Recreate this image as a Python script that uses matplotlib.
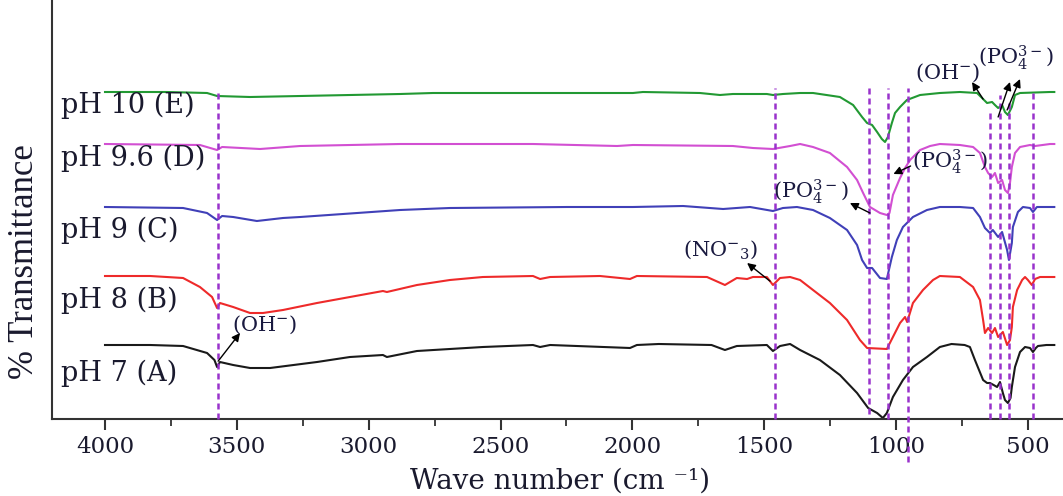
import numpy as np
import matplotlib.pyplot as plt
from matplotlib.ticker import MultipleLocator

plt.rcParams['font.family'] = ['DejaVu Serif']
plt.rcParams['mathtext.fontset'] = 'dejavuserif'

# FTIR spectra, offset transmittance (arbitrary units)
wn_A = [4000, 3829, 3704, 3613, 3585, 3575, 3564, 3514, 3450, 3374, 3196, 3071, 2946, 2931,
        2817, 2567, 2377, 2350, 2312, 2009, 1983, 1900, 1700, 1649, 1604, 1490, 1467, 1440,
        1402, 1364, 1289, 1213, 1148, 1106, 1072, 1050, 1035, 1012, 974, 936, 883, 834, 790,
        740, 720, 701, 670, 655, 644, 630, 617, 606, 595, 587, 576, 566, 561, 549, 530, 511,
        492, 481, 470, 462, 430, 400]
t_A = [74, 74, 73, 66, 59, 52, 57, 54, 51, 51, 57, 62, 64, 62,
       68, 72, 74, 72, 74, 71, 74, 75, 74, 69, 73, 74, 68, 73,
       75, 69, 59, 44, 26, 11, 6, 1, 6, 22, 39, 52, 62, 72, 75,
       74, 72, 59, 39, 36, 36, 34, 32, 37, 26, 19, 16, 21, 32, 52, 67, 72,
       71, 67, 71, 73, 74, 74]

wn_B = [4000, 3829, 3704, 3640, 3594, 3575, 3564, 3514, 3450, 3401, 3325, 3196, 3071, 2946,
        2931, 2817, 2692, 2567, 2377, 2350, 2312, 2123, 2009, 1983, 1717, 1649, 1604, 1565,
        1543, 1490, 1467, 1440, 1402, 1364, 1315, 1251, 1186, 1137, 1110, 1035, 1012, 985,
        966, 958, 936, 898, 860, 834, 758, 708, 682, 670, 663, 651, 636, 625, 613, 595, 579,
        568, 561, 557, 541, 522, 511, 500, 485, 473, 454, 400]
t_B = [143, 143, 141, 132, 122, 111, 116, 112, 106, 106, 109, 116, 122, 128,
       127, 134, 139, 142, 143, 140, 142, 143, 140, 143, 142, 134, 141, 140,
       142, 142, 134, 141, 142, 139, 129, 116, 99, 79, 71, 70, 82, 96,
       102, 97, 116, 129, 139, 143, 142, 132, 119, 99, 86, 91, 86, 91, 82, 87, 74,
       79, 92, 112, 129, 139, 142, 139, 134, 140, 142, 142]

wn_C = [4000, 3704, 3613, 3575, 3556, 3514, 3424, 3325, 3260, 2881, 2692, 2248, 1998, 1808,
        1656, 1554, 1467, 1429, 1376, 1315, 1251, 1186, 1148, 1129, 1110, 1091, 1061, 1035,
        1016, 997, 974, 936, 883, 834, 758, 708, 682, 663, 644, 633, 613, 598, 579, 572, 561,
        557, 538, 519, 492, 481, 466, 400]
t_C = [212, 211, 206, 199, 203, 202, 198, 201, 202, 209, 211, 212, 212, 213,
       210, 212, 208, 211, 212, 209, 201, 189, 174, 159, 151, 151, 141, 140,
       162, 179, 192, 202, 209, 212, 212, 211, 202, 191, 186, 189, 182, 187, 169, 159, 176,
       192, 207, 212, 211, 207, 212, 212]

wn_D = [4000, 3640, 3575, 3556, 3412, 3260, 2881, 2377, 2058, 1998, 1619, 1543, 1467, 1402,
        1364, 1315, 1251, 1186, 1148, 1125, 1099, 1061, 1035, 1025, 1012, 985, 966, 947, 909,
        871, 834, 758, 708, 682, 663, 651, 636, 625, 613, 598, 587, 576, 568, 561, 549, 530,
        492, 473, 416, 400]
t_D = [275, 274, 269, 272, 270, 273, 275, 275, 273, 274, 273, 271, 270, 273,
       275, 272, 266, 252, 239, 226, 212, 206, 204, 206, 224, 241, 251, 259, 269,
       273, 275, 274, 272, 266, 252, 246, 242, 246, 236, 239, 229, 226, 236, 252, 266, 272,
       274, 273, 275, 275]

wn_E = [4000, 3765, 3613, 3575, 3450, 3260, 2881, 2756, 1998, 1960, 1744, 1668, 1619, 1490,
        1467, 1429, 1364, 1315, 1213, 1163, 1129, 1110, 1091, 1072, 1054, 1042, 1031, 1016,
        1004, 985, 959, 909, 834, 758, 693, 674, 655, 636, 625, 613, 598, 587, 576, 561, 549,
        530, 416, 400]
t_E = [327, 327, 326, 323, 322, 323, 325, 326, 326, 327, 326, 324, 325, 325,
       324, 325, 326, 326, 322, 314, 302, 296, 294, 287, 280, 277, 282, 296,
       306, 312, 319, 324, 326, 327, 326, 321, 316, 317, 314, 311, 314, 307, 304, 312, 324,
       326, 327, 327]

series = [
    ("pH 7 (A)", wn_A, t_A, "#1a1a1a"),
    ("pH 8 (B)", wn_B, t_B, "#ee2a2a"),
    ("pH 9 (C)", wn_C, t_C, "#4040b8"),
    ("pH 9.6 (D)", wn_D, t_D, "#d24fd2"),
    ("pH 10 (E)", wn_E, t_E, "#229933"),
]
label_y = [46, 119, 189, 261, 314]

# marked bands (dashed guides)
band_wn = [3571, 1460, 1104, 1030, 956, 644, 606, 571, 480]
band_top = [327, 331, 331, 331, 331, 307, 324, 317, 329]
band_bottom = [0, 0, 5, 0, -43, 0, 0, 0, 0]

fig = plt.figure(figsize=(10.63, 4.96), dpi=100)
ax = fig.add_axes([52 / 1063, 77 / 496, 1011 / 1063, 419 / 496])

ax.vlines(band_wn, band_bottom, band_top, colors="#9932CC", linestyles=(0, (2.4, 1.6)),
          linewidth=1.8, clip_on=False, zorder=3)

for (name, wn, t, col), ly in zip(series, label_y):
    ax.plot(wn, t, color=col, lw=1.5, zorder=2)
    ax.text(4165, ly, name, fontsize=19.5, color="#1a1a2e", ha="left", va="center")

txt_col = "#1a1a40"
arrow = dict(arrowstyle="-|>", color="black", lw=1.0, mutation_scale=12, shrinkA=0, shrinkB=0)

def on_curve(wn, t, x):
    return np.interp(x, wn[::-1], t[::-1])

# (OH-) on pH 7
ax.text(3518, 94, "(OH$^{-}$)", fontsize=15, color=txt_col, va="center")
ax.annotate("", xy=(3488, 86), xytext=(3571, on_curve(wn_A, t_A, 3571) + 4), arrowprops=arrow)

# (NO3-) on pH 8
ax.text(1808, 169, "(NO$^{-}{}_{3}$)", fontsize=15, color=txt_col, va="center")
ax.annotate("", xy=(1565, 156), xytext=(1478, on_curve(wn_B, t_B, 1478)), arrowprops=arrow)

# (PO4 3-) labels
ax.text(1467, 227, "(PO$_4^{3-}$)", fontsize=15, color=txt_col, va="center")
ax.annotate("", xy=(1175, 216), xytext=(1099, 206), arrowprops=arrow)

ax.text(940, 257, "(PO$_4^{3-}$)", fontsize=15, color=txt_col, va="center")
ax.annotate("", xy=(1010, 245), xytext=(945, 253), arrowprops=arrow)

ax.text(928, 346, "(OH$^{-}$)", fontsize=15, color=txt_col, va="center")
ax.annotate("", xy=(712, 337), xytext=(670, on_curve(wn_E, t_E, 670)), arrowprops=arrow)

ax.text(689, 361, "(PO$_4^{3-}$)", fontsize=15, color=txt_col, va="center")
ax.annotate("", xy=(568, 337), xytext=(613, 302), arrowprops=arrow)
ax.annotate("", xy=(530, 340), xytext=(579, 309), arrowprops=arrow)

ax.set_xlim(4201, 367)
ax.set_ylim(0, 419)
ax.xaxis.set_major_locator(MultipleLocator(500))
ax.xaxis.set_minor_locator(MultipleLocator(250))
ax.set_yticks([])
ax.tick_params(axis="x", which="major", direction="out", length=8, width=1.5,
               labelsize=16.5, labelcolor="#1a1a2e", pad=4, color="#333333")
ax.tick_params(axis="x", which="minor", direction="out", length=5, width=1.3, color="#333333")
for side in ["top", "right"]:
    ax.spines[side].set_visible(False)
for side in ["left", "bottom"]:
    ax.spines[side].set_linewidth(1.5)
    ax.spines[side].set_color("#333333")

fig.text(25 / 1063, 1 - 262 / 496, "% Transmittance", rotation=90, fontsize=25,
         family="Liberation Serif", color="#1a1a2e", ha="center", va="center")
fig.text(560 / 1063, 1 - 481 / 496, "Wave number (cm ⁻¹)", fontsize=20,
         color="#1a1a2e", ha="center", va="center")

fig.savefig("out.png", dpi=100)
